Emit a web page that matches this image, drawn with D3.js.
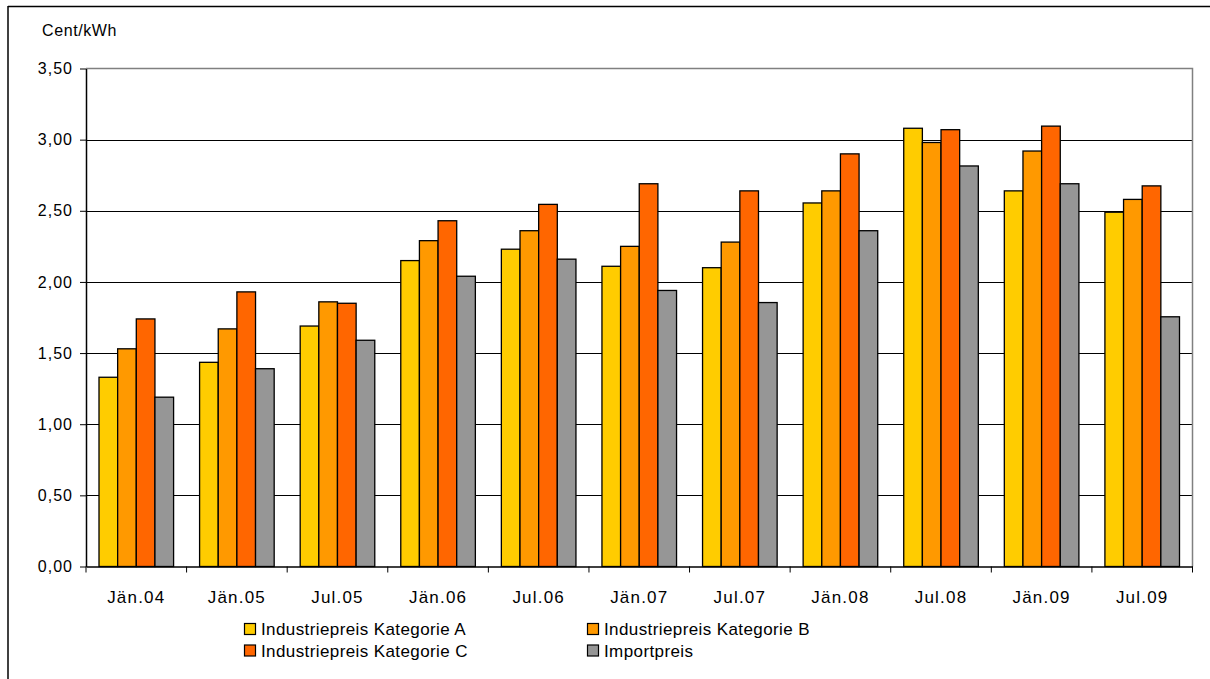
<!DOCTYPE html>
<html>
<head>
<meta charset="utf-8">
<script src="https://cdnjs.cloudflare.com/ajax/libs/d3/7.8.5/d3.min.js"></script>
<style>
  body { margin: 0; background: #fff; }
  svg { display: block; font-family: "Liberation Sans", Arial, sans-serif; }
</style>
</head>
<body>
<svg id="chart" width="1210" height="679"></svg>
<script>
// data
var categories = ["Jän.04", "Jän.05", "Jul.05", "Jän.06", "Jul.06", "Jän.07", "Jul.07", "Jän.08", "Jul.08", "Jän.09", "Jul.09"];
var kategorieA = [1.33, 1.435, 1.69, 2.15, 2.23, 2.11, 2.10, 2.555, 3.08, 2.64, 2.49];
var kategorieB = [1.53, 1.67, 1.86, 2.29, 2.36, 2.25, 2.28, 2.64, 2.98, 2.92, 2.58];
var kategorieC = [1.74, 1.93, 1.85, 2.43, 2.545, 2.69, 2.64, 2.90, 3.07, 3.095, 2.675];
var importpreis = [1.19, 1.39, 1.59, 2.04, 2.16, 1.94, 1.855, 2.36, 2.815, 2.69, 1.755];
var seriesNames = ["Industriepreis Kategorie A", "Industriepreis Kategorie B", "Industriepreis Kategorie C", "Importpreis"];
var yTicks = [0, 0.5, 1, 1.5, 2, 2.5, 3, 3.5];

var colors = ["#FFCC00", "#FF9900", "#FF6600", "#969696"];
var seriesValues = [kategorieA, kategorieB, kategorieC, importpreis];

var svg = d3.select("#chart");

var plotLeft = 86, plotRight = 1192.5, plotTop = 68.5, plotBottom = 566.5;

var yScale = d3.scaleLinear().domain([0, 3.5]).range([plotBottom, plotTop]);
var x0 = d3.scaleBand().domain(categories).range([plotLeft, plotRight]).padding(0);
var groupPad = 13;
var x1 = d3.scaleBand().domain(d3.range(4)).range([groupPad, x0.bandwidth() - groupPad]).padding(0);

var fmt = function(v) { return d3.format(".2f")(v).replace(".", ","); };

// outer frame
svg.append("line").attr("x1", 8).attr("y1", 6.5).attr("x2", 1210).attr("y2", 6.5)
    .attr("stroke", "#000").attr("stroke-width", 1.5);
svg.append("line").attr("x1", 8).attr("y1", 6).attr("x2", 8).attr("y2", 679)
    .attr("stroke", "#000").attr("stroke-width", 1.5);

// grid lines
svg.append("g").selectAll("line")
    .data(yTicks.filter(function(d) { return d > 0 && d < 3.5; }))
    .enter().append("line")
    .attr("x1", plotLeft).attr("x2", plotRight)
    .attr("y1", function(d) { return Math.round(yScale(d)) + 0.5; })
    .attr("y2", function(d) { return Math.round(yScale(d)) + 0.5; })
    .attr("stroke", "#000").attr("stroke-width", 1);

// plot area border (top / right)
svg.append("path")
    .attr("d", "M" + plotLeft + "," + plotTop + "H" + plotRight + "V" + plotBottom)
    .attr("fill", "none").attr("stroke", "#808080").attr("stroke-width", 1.5);

// bars
var groups = svg.append("g").selectAll("g")
    .data(categories)
    .enter().append("g")
    .attr("transform", function(d) { return "translate(" + x0(d) + ",0)"; });

groups.selectAll("rect")
    .data(function(d, i) { return seriesValues.map(function(s, k) { return { k: k, v: s[i] }; }); })
    .enter().append("rect")
    .attr("x", function(d) { return x1(d.k); })
    .attr("y", function(d) { return yScale(d.v); })
    .attr("width", x1.bandwidth())
    .attr("height", function(d) { return yScale(0) - yScale(d.v); })
    .attr("fill", function(d) { return colors[d.k]; })
    .attr("stroke", "#000").attr("stroke-width", 1.3);

// y axis
var yAxis = svg.append("g")
    .attr("transform", "translate(" + plotLeft + ",0)")
    .call(d3.axisLeft(yScale).tickValues(yTicks).tickFormat(fmt).tickSizeInner(6).tickSizeOuter(0).tickPadding(7));
yAxis.select(".domain").attr("stroke", "#000").attr("stroke-width", 1.5);
yAxis.selectAll(".tick line").attr("stroke", "#000");
yAxis.selectAll("text")
    .attr("font-size", "16px").attr("fill", "#000")
    .attr("font-family", "'Liberation Sans', Arial, sans-serif")
    .style("letter-spacing", "1px");

// x axis
var xAxis = svg.append("g")
    .attr("transform", "translate(0," + plotBottom + ")")
    .call(d3.axisBottom(x0).tickSize(0).tickPadding(0));
xAxis.select(".domain").attr("stroke", "#000").attr("stroke-width", 1.5);
xAxis.selectAll(".tick text")
    .attr("y", 36.5).attr("dy", 0)
    .attr("font-size", "17px").attr("fill", "#000")
    .attr("font-family", "'Liberation Sans', Arial, sans-serif")
    .style("letter-spacing", "1.2px");

// category separator ticks
svg.append("g").selectAll("line")
    .data(d3.range(categories.length + 1))
    .enter().append("line")
    .attr("x1", function(i) { return plotLeft + i * x0.bandwidth(); })
    .attr("x2", function(i) { return plotLeft + i * x0.bandwidth(); })
    .attr("y1", plotBottom).attr("y2", plotBottom + 6)
    .attr("stroke", "#000");

// unit label
svg.append("text")
    .attr("x", 42).attr("y", 36)
    .attr("font-size", "16px").style("letter-spacing", "0.6px")
    .text("Cent/kWh");

// legend
var legendPos = [[244, 629], [587, 629], [244, 650.5], [587, 650.5]];
var legend = svg.append("g").selectAll("g")
    .data(seriesNames)
    .enter().append("g")
    .attr("transform", function(d, i) { return "translate(" + legendPos[i][0] + "," + legendPos[i][1] + ")"; });
legend.append("rect")
    .attr("x", 0.5).attr("y", -5.5).attr("width", 11).attr("height", 11)
    .attr("fill", function(d, i) { return colors[i]; })
    .attr("stroke", "#000").attr("stroke-width", 1.2);
legend.append("text")
    .attr("x", 17).attr("y", 6)
    .attr("font-size", "17px").style("letter-spacing", "0.4px")
    .text(function(d) { return d; });
</script>
</body>
</html>
